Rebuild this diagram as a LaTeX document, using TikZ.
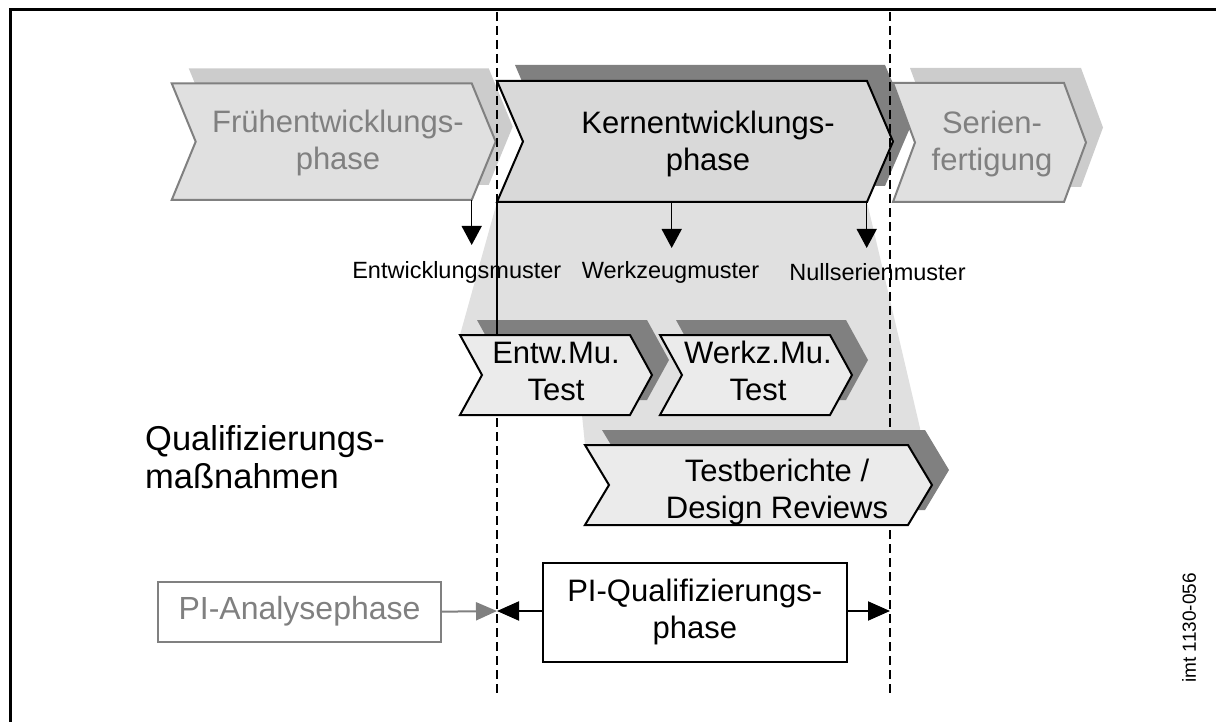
\documentclass[tikz,border=0pt]{standalone}
\usepackage{fontspec}
\setmainfont{Liberation Sans}
\usetikzlibrary{arrows.meta}

\definecolor{phasefill}{gray}{0.88}
\definecolor{phaseshadow}{gray}{0.80}
\definecolor{corefill}{gray}{0.85}
\definecolor{darkshadow}{gray}{0.50}
\definecolor{testfill}{gray}{0.92}
\definecolor{funnelfill}{gray}{0.88}
\definecolor{paleline}{gray}{0.50}

\tikzset{
  bigtext/.style={font=\fontsize{31}{37}\selectfont, align=center, inner sep=0pt},
  smalltext/.style={font=\fontsize{23.5}{28}\selectfont, inner sep=0pt},
  paletext/.style={bigtext, text=paleline},
  palechev/.style={fill=phasefill, draw=paleline, line width=2pt, line join=miter},
  paleshadow/.style={fill=phaseshadow},
  corechev/.style={fill=corefill, draw=black, line width=2pt, line join=miter},
  testchev/.style={fill=testfill, draw=black, line width=2pt, line join=miter},
  darkshade/.style={fill=darkshadow},
  phaseline/.style={dash pattern=on 9pt off 5pt, line width=1.4pt},
  downarrow/.style={line width=1.5pt, -{Triangle[length=19pt,width=20pt]}},
  sidearrow/.style={line width=2pt, -{Triangle[length=22pt,width=19pt]}},
}

% chevron: style, left x, right x, top y, bottom y, point depth
\newcommand\chevron[6]{%
  \path[#1] (#2,#4) -- (#3,#4) -- ({#3+#6},{(#4+#5)/2}) -- (#3,#5) -- (#2,#5)
    -- ({#2+#6},{(#4+#5)/2}) -- cycle;}

\begin{document}
\begin{tikzpicture}[x=1pt,y=-1pt]
\useasboundingbox (0,0) rectangle (1216,722);

% frame
\draw[line width=3pt] (10.8,722) -- (10.8,9.5) -- (1216,9.5);

% funnel below the core phase
\fill[funnelfill] (497,202) -- (867,202) -- (920,428) -- (920,445) -- (585,445)
  -- (582,415) -- (500,415) -- (500,335) -- (460,335) -- cycle;

% development phases
\chevron{paleshadow, xshift=17pt, yshift=15pt}{171.7}{471.7}{83.3}{200}{24}
\chevron{palechev}{171.7}{471.7}{83.3}{200}{24}
\chevron{darkshade, xshift=18pt, yshift=16pt}{497}{867}{81}{202}{26}
\chevron{corechev}{497}{867}{81}{202}{26}
\chevron{paleshadow, xshift=17pt, yshift=15pt}{893}{1064}{83}{202}{22}
\chevron{palechev}{893}{1064}{83}{202}{22}

\node[paletext] (early) at (338,143) {Frühentwicklungs-\\phase};
\node[bigtext]  (core)  at (708,144) {Kernentwicklungs-\\phase};
\node[paletext] (series) at (992,144) {Serien-\\fertigung};

\coordinate (earlyBR) at (471.7,200);
\coordinate (coreBL) at (497,202);
\coordinate (coreBM) at (671.7,202);
\coordinate (coreBR) at (866.7,202);

% phase borders
\coordinate (leftTop) at (497,12);
\coordinate (leftBot) at (497,697);
\coordinate (rightTop) at (890,12);
\coordinate (rightBot) at (890,697);
\draw[phaseline] (leftTop) -- (leftBot);
\draw[phaseline] (rightTop) -- (rightBot);

% samples
\node[smalltext] (devsample) at (456.8,272) {Entwicklungsmuster};
\node[smalltext] (toolsample) at (670.5,272) {Werkzeugmuster};
\node[smalltext] (zerosample) at (877.5,272) {Nullserienmuster};

\coordinate (devtip) at (471.7,245);
\coordinate (tooltip) at (671.7,248);
\coordinate (zerotip) at (866.7,248);
\draw[downarrow] (earlyBR) -- (devtip);
\draw[downarrow] (coreBM) -- (tooltip);
\draw[downarrow] (coreBR) -- (zerotip);

% qualification measures
\chevron{darkshade, xshift=17pt, yshift=15pt}{460}{630}{335}{415}{22}
\chevron{darkshade, xshift=16pt, yshift=15pt}{660}{830}{335}{415}{22}
\chevron{darkshade, xshift=17pt, yshift=15pt}{585}{908}{445}{525}{24}

\coordinate (devtestTop) at (497,335);
\draw[line width=1.5pt] (coreBL) -- (devtestTop);

\chevron{testchev}{460}{630}{335}{415}{22}
\chevron{testchev}{660}{830}{335}{415}{22}
\chevron{testchev}{585}{908}{445}{525}{24}

\node[bigtext] (devtest) at (556,371.3) {Entw.Mu.\\Test};
\node[bigtext] (tooltest) at (758,371.3) {Werkz.Mu.\\Test};
\node[bigtext] (reports) at (777,492) {Testberichte /\\Design Reviews};

\node[font=\fontsize{34.5}{38}\selectfont, align=left, inner sep=0pt, anchor=west]
  (measures) at (145,457) {Qualifizierungs-\\maßnahmen};

% PI phases
\node[draw=paleline, line width=2pt, fill=white, text=paleline,
      font=\fontsize{32}{37}\selectfont, minimum width=283pt, minimum height=60pt,
      inner sep=0pt] (analysis) at (299.5,611.7) {PI-Analysephase};
\node[draw=black, line width=2pt, fill=white, bigtext,
      minimum width=303.6pt, minimum height=99pt] (qualif) at (694.8,612.2)
      {PI-Qualifizierungs-\\phase};

\coordinate (leftMark) at (497,611);
\coordinate (rightMark) at (890,611);
\draw[sidearrow, draw=paleline, fill=paleline,
      -{Triangle[length=21pt,width=18pt,fill=paleline]}] (analysis.east) -- (leftMark);
\draw[sidearrow] (qualif.west |- leftMark) -- (leftMark);
\draw[sidearrow] (qualif.east |- rightMark) -- (rightMark);

% drawing number
\node[font=\fontsize{19}{23}\selectfont, rotate=90, inner sep=0pt] (drawno) at (1189,628) {imt 1130-056};

\end{tikzpicture}
\end{document}
